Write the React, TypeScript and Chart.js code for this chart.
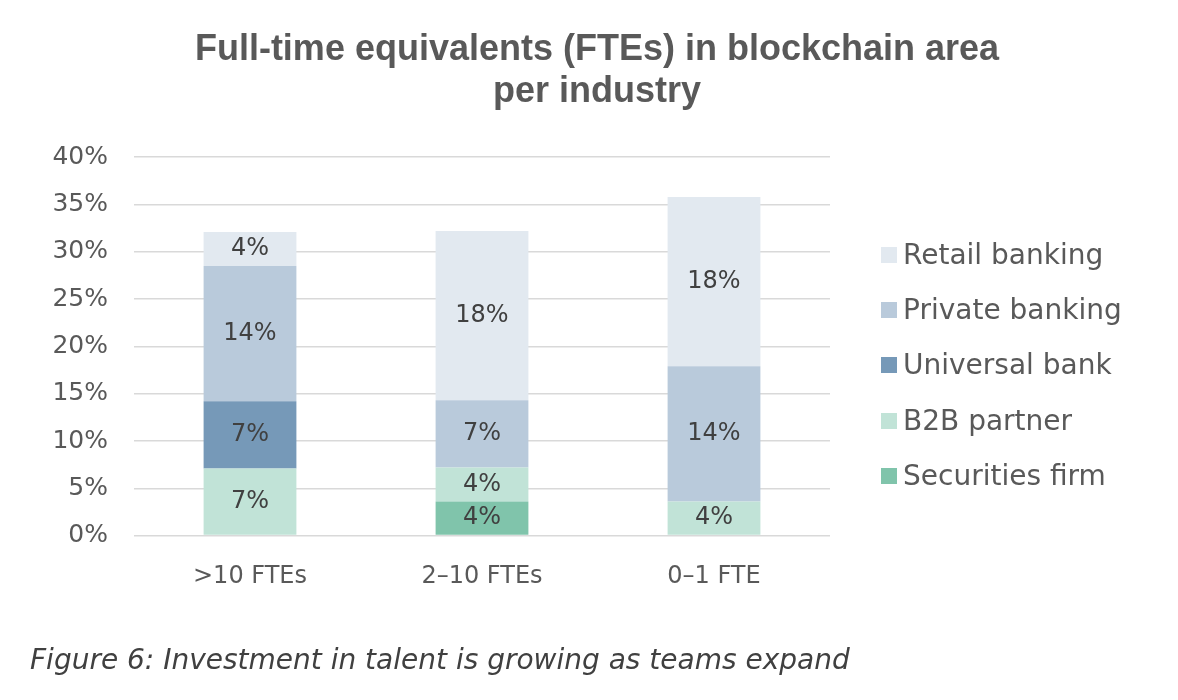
import { useEffect, useRef } from 'react';
import { Chart, registerables } from 'chart.js';

Chart.register(...registerables);

const categories = ['>10 FTEs', '2–10 FTEs', '0–1 FTE'];
const securitiesFirm = [null, 3.6, null];
const b2bPartner = [7.1, 3.6, 3.6];
const universalBank = [7.1, null, null];
const privateBanking = [14.3, 7.1, 14.3];
const retailBanking = [3.6, 17.9, 17.9];

// stacking order, bottom to top
const seriesNames = ['Securities firm', 'B2B partner', 'Universal bank', 'Private banking', 'Retail banking'];
const seriesColors = ['#80c4ab', '#c1e3d7', '#7699b8', '#b9cadb', '#e2e9f0'];
const seriesData = [securitiesFirm, b2bPartner, universalBank, privateBanking, retailBanking];

const titleLines = ['Full-time equivalents (FTEs) in blockchain area', 'per industry'];
const caption = 'Figure 6: Investment in talent is growing as teams expand';

const FONT = "'DejaVu Sans', sans-serif";

const valueLabels = {
  id: 'valueLabels',
  afterDatasetsDraw(chart: any) {
    const ctx = chart.ctx;
    ctx.save();
    ctx.font = `24px ${FONT}`;
    ctx.fillStyle = '#404040';
    ctx.textAlign = 'center';
    ctx.textBaseline = 'middle';
    chart.data.datasets.forEach((ds: any, i: number) => {
      const meta = chart.getDatasetMeta(i);
      if (meta.hidden) return;
      meta.data.forEach((el: any, j: number) => {
        const v = ds.data[j];
        if (v == null || v === 0) return;
        const p = el.getCenterPoint();
        ctx.fillText(Math.round(v) + '%', p.x, p.y);
      });
    });
    ctx.restore();
  },
};

export default function App() {
  const ref = useRef<HTMLCanvasElement | null>(null);

  useEffect(() => {
    if (!ref.current) return;
    const chart = new Chart(ref.current, {
      type: 'bar',
      data: {
        labels: categories,
        datasets: seriesNames.map((name, i) => ({
          label: name,
          data: seriesData[i],
          backgroundColor: seriesColors[i],
        })) as any,
      },
      plugins: [valueLabels],
      options: {
        animation: false,
        responsive: true,
        maintainAspectRatio: false,
        datasets: { bar: { categoryPercentage: 1, barPercentage: 0.4, borderWidth: 0 } } as any,
        layout: { padding: { top: 29, bottom: 0, left: 30, right: 14 } },
        plugins: {
          title: {
            display: true,
            text: titleLines,
            color: '#595959',
            font: { family: "'Liberation Sans', Arial, sans-serif", size: 36, weight: 'bold', lineHeight: 1.17 },
            padding: { top: 0, bottom: 44 },
          },
          subtitle: {
            display: true,
            position: 'bottom',
            align: 'start',
            text: caption,
            color: '#404040',
            font: { family: FONT, size: 28, style: 'italic', lineHeight: 1.2 },
            padding: { top: 27, bottom: 21 },
          },
          legend: { display: false },
          tooltip: { enabled: false },
        },
        scales: {
          x: {
            stacked: true,
            grid: { display: false, drawTicks: false },
            border: { display: false },
            ticks: { color: '#595959', font: { family: FONT, size: 24 }, padding: 27 },
          },
          y: {
            stacked: true,
            min: 0,
            max: 40,
            grid: { color: '#d9d9d9', lineWidth: 1.5, drawTicks: false },
            border: { display: false },
            ticks: {
              stepSize: 5,
              color: '#595959',
              font: { family: FONT, size: 25 },
              padding: 26,
              callback: (v: any) => v + '%',
            },
            afterFit: (scale: any) => {
              scale.width = 104;
            },
          },
          legendSpace: {
            type: 'linear',
            position: 'right',
            display: true,
            grid: { display: false, drawTicks: false },
            border: { display: false },
            ticks: { display: false },
            afterFit: (scale: any) => {
              scale.width = 334;
            },
          },
        },
      } as any,
    });
    return () => chart.destroy();
  }, []);

  const legendOrder = seriesNames.map((_, i) => i).reverse();

  return (
    <div style={{ position: 'fixed', left: 0, top: 0, width: 1178, height: 700, background: '#ffffff' }}>
      <canvas ref={ref} />
      <div
        style={{
          position: 'absolute',
          left: 881,
          top: 227,
          fontFamily: FONT,
          fontSize: 28,
          color: '#595959',
        }}
      >
        {legendOrder.map((i) => (
          <div key={seriesNames[i]} style={{ height: 55.3, display: 'flex', alignItems: 'center', lineHeight: 1 }}>
            <span style={{ width: 16, height: 16, background: seriesColors[i], display: 'inline-block', flex: 'none' }} />
            <span style={{ marginLeft: 6, whiteSpace: 'nowrap' }}>{seriesNames[i]}</span>
          </div>
        ))}
      </div>
    </div>
  );
}
